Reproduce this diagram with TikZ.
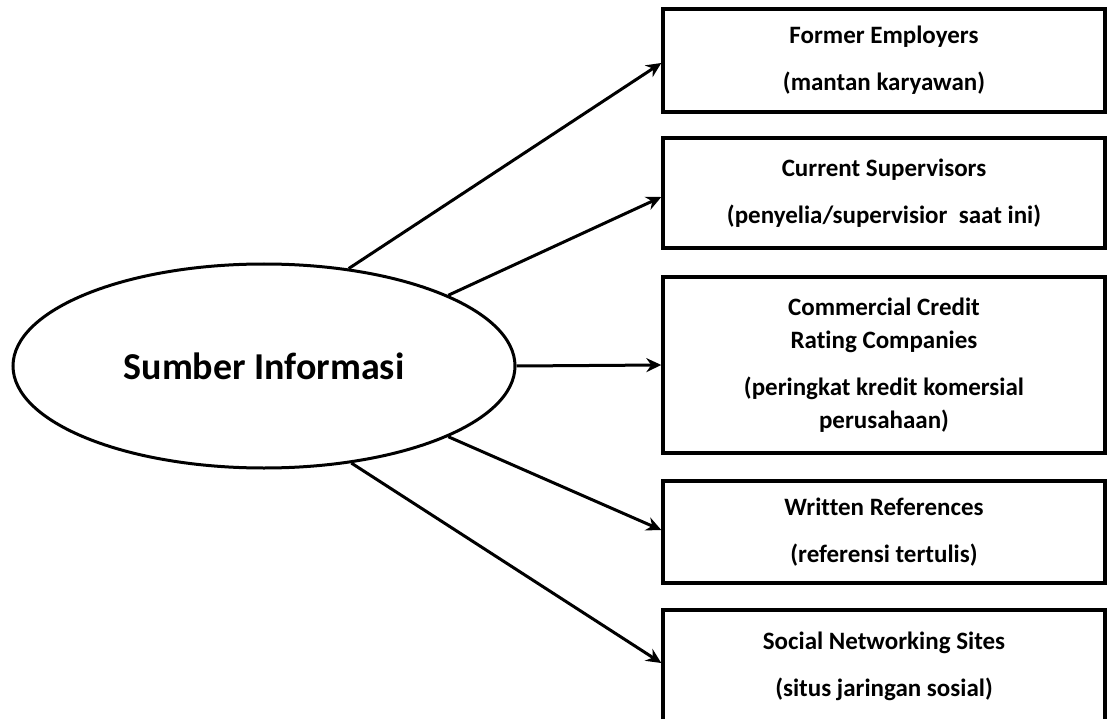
\documentclass[tikz,border=0pt]{standalone}
\usepackage{fontspec}
\setmainfont{Carlito}[Ligatures=NoCommon]
\usetikzlibrary{shapes.geometric,arrows.meta}

\tikzset{
  src/.style={ellipse, draw, line width=3pt, inner sep=0pt,
    minimum width=502pt, minimum height=204pt,
    font=\bfseries\fontsize{38}{44}\selectfont},
  infobox/.style={rectangle, draw, line width=3.4pt, inner sep=0pt,
    minimum width=442pt, align=center,
    font=\bfseries\fontsize{25}{33}\selectfont},
  link/.style={line width=3pt,
    -{Stealth[length=15pt,width=14pt,inset=5pt]}}
}

\begin{document}
\begin{tikzpicture}[x=1pt,y=-1pt]
  \clip (0,0) rectangle (1108,719);
  \fill[white] (0,0) rectangle (1108,719);

  % central source
  \node[src] (ell) at (264,366) {Sumber Informasi};

  % the five sources of information
  \node[infobox, minimum height=103pt] (b1) at (884,60.5)
    {Former Employers\\[14pt](mantan karyawan)};
  \node[infobox, minimum height=110pt] (b2) at (884,193)
    {Current Supervisors\\[14pt](penyelia/supervisior\ \ saat ini)};
  \node[infobox, minimum height=176pt] (b3) at (884,365)
    {Commercial Credit\\Rating Companies\\[14pt](peringkat kredit komersial\\perusahaan)};
  \node[infobox, minimum height=102pt] (b4) at (884,532)
    {Written References\\[14pt](referensi tertulis)};
  \node[infobox, minimum height=112pt] (b5) at (884,666)
    {Social Networking Sites\\[14pt](situs jaringan sosial)};

  % connectors
  \draw[link] (ell.49.6) -- ([yshift=-2.5pt]b1.west);
  \draw[link] (ell.21.9) -- ([yshift=-4pt]b2.west);
  \draw[link] (ell.east) -- (b3.west);
  \draw[link] (ell.-21.5) -- ([yshift=2pt]b4.west);
  \draw[link] (ell.-48.4) -- ([yshift=3pt]b5.west);
\end{tikzpicture}
\end{document}
